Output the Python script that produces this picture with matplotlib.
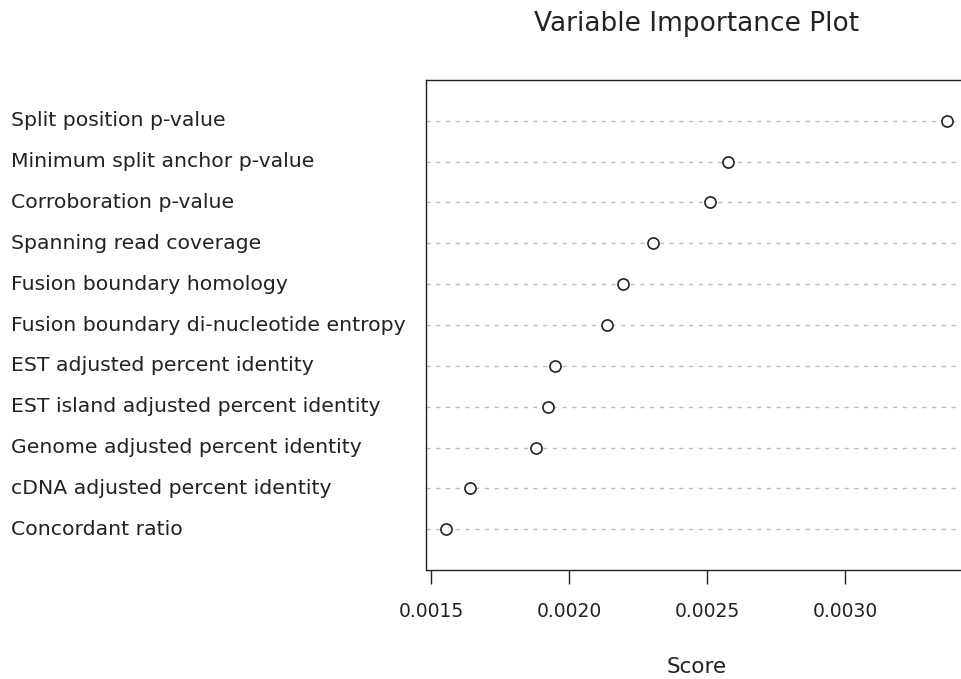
import matplotlib
matplotlib.use('Agg')
import matplotlib.pyplot as plt
from matplotlib.transforms import blended_transform_factory

# variable importance scores, top to bottom as in the chart
features = [
    'Split position p-value',
    'Minimum split anchor p-value',
    'Corroboration p-value',
    'Spanning read coverage',
    'Fusion boundary homology',
    'Fusion boundary di-nucleotide entropy',
    'EST adjusted percent identity',
    'EST island adjusted percent identity',
    'Genome adjusted percent identity',
    'cDNA adjusted percent identity',
    'Concordant ratio',
]
scores = [0.003370, 0.002574, 0.002512, 0.002304, 0.002195, 0.002137,
          0.001947, 0.001923, 0.001880, 0.001639, 0.001554]
xticks = [0.0015, 0.0020, 0.0025, 0.0030]
xtick_labels = ['0.0015', '0.0020', '0.0025', '0.0030']

plt.rcParams['font.family'] = 'DejaVu Sans'
ink = '#222222'

fig = plt.figure(figsize=(9.61, 6.79), dpi=100)
ax = fig.add_axes([0.4436, 0.1605, 0.5626, 0.7217])

n = len(scores)
ypos = list(range(n, 0, -1))

for y in ypos:
    ax.axhline(y, color='#bdbdbd', lw=1.0, ls=(0, (3, 4)), zorder=1)
ax.plot(scores, ypos, 'o', ms=8, mfc='white', mec=ink, mew=1.2,
        ls='none', zorder=3)

lo, hi = min(scores), max(scores)
pad = (hi - lo) * 0.04
ax.set_xlim(lo - pad, hi + pad)
ax.set_ylim(0, n + 1)

ax.set_yticks([])
trans = blended_transform_factory(fig.transFigure, ax.transData)
for y, name in zip(ypos, features):
    ax.text(11 / 961, y, name, transform=trans, ha='left', va='center',
            fontsize=14.7, color=ink)

ax.set_xticks(xticks)
ax.set_xticklabels(xtick_labels, fontsize=13.5, color=ink)
ax.tick_params(axis='x', length=10, width=1.0, color=ink, pad=13)
for s in ax.spines.values():
    s.set_color(ink)
    s.set_linewidth(1.0)

ax.set_xlabel('Score', fontsize=15.5, color=ink, labelpad=26)
ax.set_title('Variable Importance Plot', fontsize=19, color=ink, pad=35)

fig.savefig('out.png', dpi=100)
